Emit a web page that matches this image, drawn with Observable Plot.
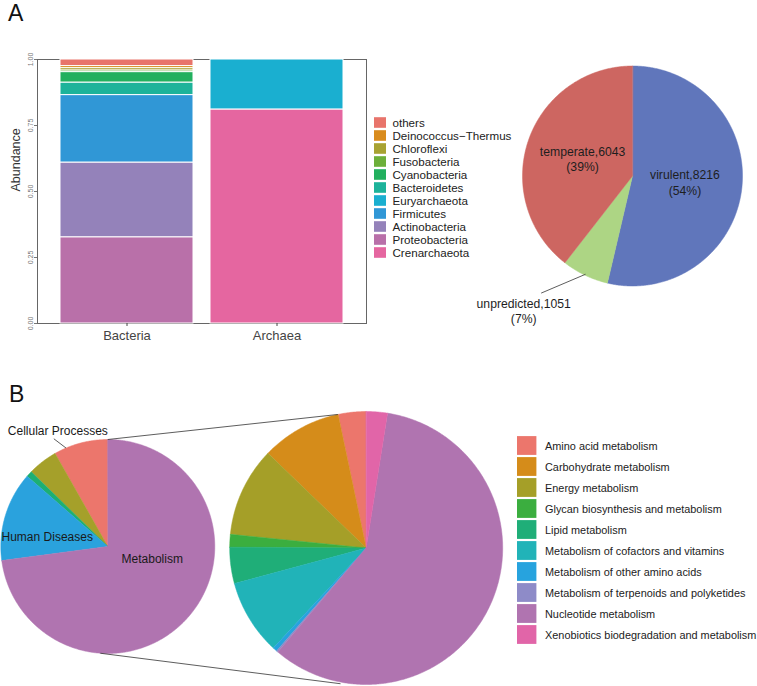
<!DOCTYPE html>
<html><head><meta charset="utf-8">
<script src="https://cdn.jsdelivr.net/npm/d3@7"></script>
<script src="https://cdn.jsdelivr.net/npm/@observablehq/plot@0.6"></script>
<style>
body{margin:0;background:#fff;font-family:"Liberation Sans",Arial,Helvetica,sans-serif;}
#fig{position:relative;width:757px;height:686px;overflow:hidden;background:#fff;}
.letter{position:absolute;font-size:23px;line-height:27px;color:#111;}
</style></head><body><div id="fig">
<div class="letter" style="left:8px;top:0px;">A</div>
<div class="letter" style="left:9px;top:381px;">B</div>
</div>
<script>
// ---------------- DATA ----------------
const groups = ["Bacteria", "Archaea"];
const phyla = ["others", "Deinococcus\u2212Thermus", "Chloroflexi", "Fusobacteria", "Cyanobacteria",
  "Bacteroidetes", "Euryarchaeota", "Firmicutes", "Actinobacteria", "Proteobacteria", "Crenarchaeota"];
const phylaColors = ["#E8746B", "#D98C1E", "#A8A232", "#6DAF3A", "#22B05E",
  "#1DB39A", "#1AAFD0", "#3097D6", "#9482BA", "#B970A9", "#E566A0"];
const bacteriaAbundance = [0.025, 0.008, 0.009, 0.006, 0.040, 0.047, 0, 0.256, 0.283, 0.326, 0];
const archaeaAbundance  = [0, 0, 0, 0, 0, 0, 0.19, 0, 0, 0, 0.81];
const abundanceTicks = [0, 0.25, 0.5, 0.75, 1];

const lifestyles = ["virulent", "unpredicted", "temperate"];
const lifestyleCounts = [8216, 1051, 6043];
const lifestyleColors = ["#6076BB", "#ADD584", "#CD6661"];

const level1 = ["Cellular Processes", "Environmental Information Processing", "Genetic Information Processing",
  "Human Diseases", "Metabolism"];
const level1Share = [8.2, 4.5, 0.9, 13.5, 72.9];
const level1Colors = ["#EC766C", "#A5A02A", "#1DAF73", "#2AA2DD", "#B074B0"];
const level1Labelled = ["Cellular Processes", "Human Diseases", "Metabolism"];

const metabolismPathways = ["Amino acid metabolism", "Carbohydrate metabolism", "Energy metabolism",
  "Glycan biosynthesis and metabolism", "Lipid metabolism", "Metabolism of cofactors and vitamins",
  "Metabolism of other amino acids", "Metabolism of terpenoids and polyketides", "Nucleotide metabolism",
  "Xenobiotics biodegradation and metabolism"];
const metabolismShare = [3.3, 9.5, 10.6, 1.5, 4.3, 8.9, 0.5, 0.2, 58.7, 2.5];
const metabolismColors = ["#EC766C", "#D58C1A", "#A59F28", "#3BAE3F", "#1FAE78", "#21B3B8",
  "#27A3DE", "#8E8BC8", "#B074B0", "#E165A8"];

// ---------------- HELPERS ----------------
const FONT = '"Liberation Sans", Arial, Helvetica, sans-serif';
const fig = document.getElementById("fig");
const rad = a => a * Math.PI / 180;
function place(node, left, top) {
  node.style.position = "absolute"; node.style.left = left + "px"; node.style.top = top + "px";
  fig.appendChild(node); return node;
}
function pieSlices(keys, values, dir) {
  const total = d3.sum(values);
  let acc = 0;
  return keys.map((k, i) => {
    const a0 = acc / total * 360 * dir; acc += values[i]; const a1 = acc / total * 360 * dir;
    return {key: k, value: values[i], share: values[i] / total, a0, a1, mid: (a0 + a1) / 2};
  });
}
// ySign = +1 for y-up coordinates, -1 for y-down coordinates
function wedgePoints(slices, cx, cy, r, ySign) {
  const pts = [];
  for (const s of slices) {
    if (s.value <= 0) continue;
    pts.push({key: s.key, x: cx, y: cy});
    const n = Math.max(2, Math.ceil(Math.abs(s.a1 - s.a0) * 2));
    for (let j = 0; j <= n; j++) {
      const a = rad(s.a0 + (s.a1 - s.a0) * j / n);
      pts.push({key: s.key, x: cx + r * Math.sin(a), y: cy + ySign * r * Math.cos(a)});
    }
  }
  return pts;
}
const baseStyle = {fontFamily: FONT, background: "transparent", overflow: "visible"};

// ---------------- PANEL A: stacked bars ----------------
const barRows = [];
phyla.forEach((p, i) => {
  barRows.push({group: "Bacteria", phylum: p, value: bacteriaAbundance[i]});
  barRows.push({group: "Archaea", phylum: p, value: archaeaAbundance[i]});
});
const stackOrder = phyla.slice().reverse();
const barPlot = Plot.plot({
  width: 370, height: 310,
  marginLeft: 37, marginRight: 4, marginTop: 19, marginBottom: 27,
  style: baseStyle,
  x: {domain: groups, paddingInner: 0.113, paddingOuter: 0.153, axis: null},
  y: {domain: [0, 1], axis: null},
  color: {domain: phyla, range: phylaColors},
  marks: [
    Plot.frame({stroke: "#666", strokeWidth: 1}),
    Plot.barY(barRows.filter(d => d.value > 0), {x: "group", y: "value", fill: "phylum", stroke: "white", strokeWidth: 1, order: stackOrder}),
    Plot.axisX({tickSize: 3, tickPadding: 4, fontSize: 13, color: "#444", label: null}),
    Plot.axisY({ticks: abundanceTicks, tickFormat: d3.format(".2f"), tickRotate: -90, textAnchor: "middle",
      lineAnchor: "bottom", fontSize: 7, tickSize: 3, tickPadding: 2, color: "#777", label: null}),
    Plot.text(["Abundance"], {frameAnchor: "left", rotate: -90, dx: -22, fontSize: 12.5, fill: "#333"})
  ]
});
place(barPlot, 0, 40);

// legend A
const legendA = Plot.plot({
  width: 160, height: 146, margin: 0, style: baseStyle,
  x: {domain: [0, 160], range: [0, 160], axis: null},
  y: {type: "band", domain: phyla, range: [0, 143.7], padding: 0, axis: null},
  color: {domain: phyla, range: phylaColors},
  marks: [
    Plot.barX(phyla, {x1: () => 4, x2: () => 16, y: d => d, fill: d => d, insetTop: 1.2, insetBottom: 1.2}),
    Plot.text(phyla, {x: () => 22, y: d => d, text: d => d, textAnchor: "start", fontSize: 11.6, fill: "#222"})
  ]
});
place(legendA, 370, 116);

// ---------------- PANEL A: lifestyle pie ----------------
const pieA = {w: 317, h: 290, cx: 192, cy: 125.5, R: 110};
const lifeSlices = pieSlices(lifestyles, lifestyleCounts, 1);
const lifeLabel = s => `${s.key},${s.value}\n(${Math.round(s.share * 100)}%)`;
const insideA = lifeSlices.filter(s => s.share >= 0.1);
const outsideA = lifeSlices.filter(s => s.share < 0.1);
const pieAPlot = Plot.plot({
  width: pieA.w, height: pieA.h, margin: 0, style: baseStyle,
  x: {domain: [-pieA.cx / pieA.R, (pieA.w - pieA.cx) / pieA.R], axis: null},
  y: {domain: [-(pieA.h - pieA.cy) / pieA.R, pieA.cy / pieA.R], axis: null},
  color: {domain: lifestyles, range: lifestyleColors},
  marks: [
    Plot.line(wedgePoints(lifeSlices, 0, 0, 1, 1), {x: "x", y: "y", z: "key", fill: "key", stroke: "key", strokeWidth: 0.5, curve: "linear-closed"}),
    Plot.text(insideA, {x: s => 0.48 * Math.sin(rad(s.mid)), y: s => 0.48 * Math.cos(rad(s.mid)), text: lifeLabel,
      fontSize: 12.2, lineHeight: 1.25, fill: "#1e1e1e"}),
    Plot.link(outsideA, {x1: s => 0.99 * Math.sin(rad(s.mid)), y1: s => 0.99 * Math.cos(rad(s.mid)),
      x2: s => 1.35 * Math.sin(rad(s.mid + 12.4)), y2: s => 1.35 * Math.cos(rad(s.mid + 12.4)), stroke: "#333", strokeWidth: 0.8}),
    Plot.text(outsideA, {x: s => 1.35 * Math.sin(rad(s.mid + 12.4)), y: s => 1.35 * Math.cos(rad(s.mid + 12.4)), text: lifeLabel,
      dx: -17.5, dy: 17.5, fontSize: 12.2, lineHeight: 1.25, fill: "#1e1e1e"})
  ]
});
place(pieAPlot, 440, 50);

// ---------------- PANEL B: pie of pie ----------------
const pieB = {w: 515, h: 286, left: {cx: 107.3, cy: 146, R: 107}, right: {cx: 365.7, cy: 147.5, R: 136.5}};
const polar = (c, angle, r) => ({x: c.cx + r * c.R * Math.sin(rad(angle)), y: c.cy - r * c.R * Math.cos(rad(angle))});
const l1Slices = pieSlices(level1, level1Share, -1);
const mSlices = pieSlices(metabolismPathways, metabolismShare, -1);
const connectors = [
  {from: polar(pieB.left, 0, 1), to: polar(pieB.right, -12, 1)},
  {from: polar(pieB.left, 184, 1), to: polar(pieB.right, 190.7, 1.012)}
];
const level1LabelLayout = [
  {key: "Cellular Processes", angle: -26.6, r: 1.126, anchor: "middle", dx: 4, dy: -7.6, leader: -23},
  {key: "Human Diseases", angle: -85, r: 0.997, anchor: "start", dx: 0, dy: 0},
  {key: "Metabolism", angle: 106.3, r: 0.433, anchor: "middle", dx: 0, dy: 0}
].filter(d => level1Labelled.includes(d.key));

const pieBPlot = Plot.plot({
  width: pieB.w, height: pieB.h, margin: 0, style: baseStyle,
  x: {domain: [0, pieB.w], range: [0, pieB.w], axis: null},
  y: {domain: [0, pieB.h], range: [0, pieB.h], axis: null},
  color: {domain: level1.concat(metabolismPathways), range: level1Colors.concat(metabolismColors)},
  marks: [
    Plot.line(wedgePoints(l1Slices, pieB.left.cx, pieB.left.cy, pieB.left.R, -1),
      {x: "x", y: "y", z: "key", fill: "key", stroke: "key", strokeWidth: 0.5, curve: "linear-closed"}),
    Plot.line(wedgePoints(mSlices, pieB.right.cx, pieB.right.cy, pieB.right.R, -1),
      {x: "x", y: "y", z: "key", fill: "key", stroke: "key", strokeWidth: 0.5, curve: "linear-closed"}),
    Plot.link(connectors, {x1: d => d.from.x, y1: d => d.from.y, x2: d => d.to.x, y2: d => d.to.y, stroke: "#333", strokeWidth: 0.8}),
    Plot.link(level1LabelLayout.filter(d => d.leader !== undefined), {
      x1: d => polar(pieB.left, d.leader, 1).x, y1: d => polar(pieB.left, d.leader, 1).y,
      x2: d => polar(pieB.left, d.angle, d.r).x, y2: d => polar(pieB.left, d.angle, d.r).y, stroke: "#333", strokeWidth: 0.8}),
    ...level1LabelLayout.map(d => Plot.text([d], {x: d => polar(pieB.left, d.angle, d.r).x, y: d => polar(pieB.left, d.angle, d.r).y,
      text: "key", textAnchor: d.anchor, dx: d.dx, dy: d.dy, fontSize: 12, fill: "#1a1a1a"}))
  ]
});
place(pieBPlot, 0, 400);

// legend B
const legendB = Plot.plot({
  width: 240, height: 214, margin: 0, style: baseStyle,
  x: {domain: [0, 240], range: [0, 240], axis: null},
  y: {type: "band", domain: metabolismPathways, range: [0, 212], padding: 0, axis: null},
  color: {domain: metabolismPathways, range: metabolismColors},
  marks: [
    Plot.barX(metabolismPathways, {x1: () => 0, x2: () => 19.4, y: d => d, fill: d => d, insetTop: 1.1, insetBottom: 1.1}),
    Plot.text(metabolismPathways, {x: () => 27.5, y: d => d, text: d => d, textAnchor: "start", fontSize: 10.9, fill: "#222"})
  ]
});
place(legendB, 517, 434.4);
</script>
</body></html>
